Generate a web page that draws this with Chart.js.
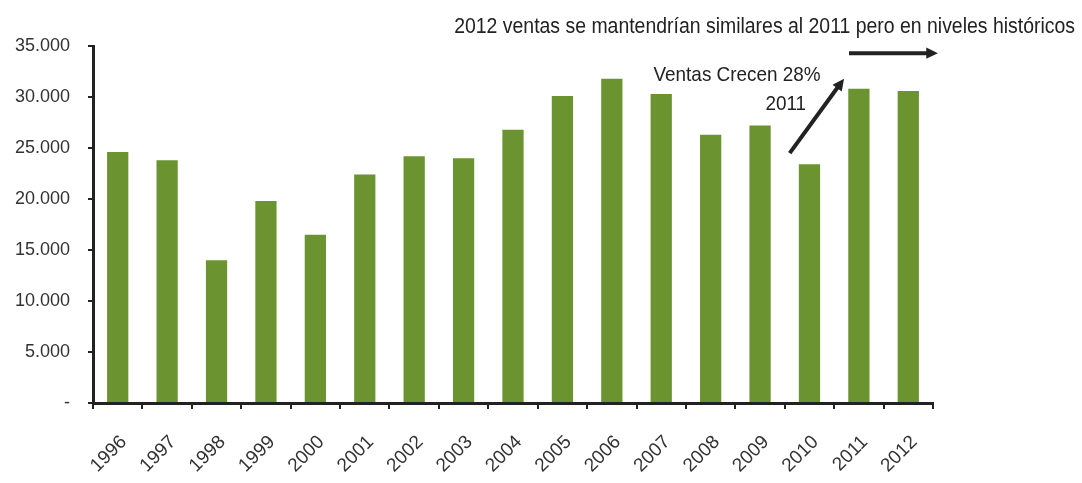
<!DOCTYPE html>
<html lang="es">
<head>
<meta charset="utf-8">
<title>Ventas 1996-2012</title>
<script src="https://cdn.jsdelivr.net/npm/chart.js"></script>
<style>
    html, body { margin: 0; padding: 0; background: #ffffff; }
    #wrap { width: 1082px; height: 483px; position: relative; }
</style>
</head>
<body>
<div id="wrap"><canvas id="ventasChart" width="1082" height="483"></canvas></div>
<script>
// ---------------------------------------------
// Datos
// ---------------------------------------------
const years = ['1996', '1997', '1998', '1999', '2000', '2001', '2002', '2003', '2004',
               '2005', '2006', '2007', '2008', '2009', '2010', '2011', '2012'];
const ventas = [24600, 23800, 14000, 19800, 16500, 22400, 24200, 24000, 26800,
                30100, 31800, 30300, 26300, 27200, 23400, 30800, 30600];
const yTicks = [0, 5000, 10000, 15000, 20000, 25000, 30000, 35000];

const TITLE_TEXT = '2012 ventas se mantendrían similares al 2011 pero en niveles históricos';
const NOTE_LINE1 = 'Ventas Crecen 28%';
const NOTE_LINE2 = '2011';

const FONT = "'Liberation Sans', Arial, sans-serif";
const BAR_COLOR = '#6b9330';
const INK = '#222222';

// formato 35.000 y "-" para el cero
function fmtMiles(v) {
    if (v === 0) return '-';
    return String(v).replace(/\B(?=(\d{3})+(?!\d))/g, '.');
}

// flecha con punta triangular
function drawArrow(ctx, x1, y1, x2, y2) {
    const ang = Math.atan2(y2 - y1, x2 - x1);
    const head = 13;
    ctx.save();
    ctx.strokeStyle = INK;
    ctx.fillStyle = INK;
    ctx.lineWidth = 4;
    ctx.beginPath();
    ctx.moveTo(x1, y1);
    ctx.lineTo(x2 - Math.cos(ang) * head * 0.8, y2 - Math.sin(ang) * head * 0.8);
    ctx.stroke();
    ctx.beginPath();
    ctx.moveTo(x2, y2);
    ctx.lineTo(x2 - head * Math.cos(ang - 0.45), y2 - head * Math.sin(ang - 0.45));
    ctx.lineTo(x2 - head * Math.cos(ang + 0.45), y2 - head * Math.sin(ang + 0.45));
    ctx.closePath();
    ctx.fill();
    ctx.restore();
}

// texto algo comprimido en horizontal
function drawNarrowText(ctx, text, x, y, size, align) {
    ctx.save();
    ctx.font = size + 'px ' + FONT;
    ctx.fillStyle = INK;
    ctx.textBaseline = 'middle';
    ctx.textAlign = align;
    ctx.translate(x, y);
    ctx.scale(0.9, 1);
    ctx.fillText(text, 0, 0);
    ctx.restore();
}

// anotaciones: titulo, nota 2011 y flechas
const notasPlugin = {
    id: 'notas',
    afterDraw(chart) {
        const ctx = chart.ctx;
        const x = chart.scales.x;
        const y = chart.scales.y;
        const step = x.getPixelForValue(1) - x.getPixelForValue(0);

        drawNarrowText(ctx, TITLE_TEXT, 1075, 27, 21.6, 'right');
        drawNarrowText(ctx, NOTE_LINE1, x.getPixelForValue(13) - 23, 75, 21, 'center');
        drawNarrowText(ctx, NOTE_LINE2, x.getPixelForValue(13) + 46, 104, 21, 'right');

        // flecha diagonal: crecimiento 2010 -> 2011
        drawArrow(ctx,
            x.getPixelForValue(14) - step * 0.4, y.getPixelForValue(24500),
            x.getPixelForValue(15) - step * 0.3, y.getPixelForValue(31800));
        // flecha horizontal hacia 2012
        drawArrow(ctx,
            x.getPixelForValue(15) - step * 0.2, y.getPixelForValue(34300),
            x.getPixelForValue(16) + step * 0.6, y.getPixelForValue(34300));
    }
};

const chart = new Chart(document.getElementById('ventasChart').getContext('2d'), {
    type: 'bar',
    data: {
        labels: years,
        datasets: [{
            data: ventas,
            backgroundColor: BAR_COLOR,
            borderWidth: 0,
            barPercentage: 0.43,
            categoryPercentage: 1.0
        }]
    },
    options: {
        responsive: false,
        animation: false,
        layout: { padding: { top: 46, right: 149, left: 0, bottom: 0 } },
        plugins: {
            legend: { display: false },
            tooltip: { enabled: false }
        },
        scales: {
            x: {
                offset: true,
                border: { color: INK, width: 3 },
                grid: {
                    offset: true,
                    drawOnChartArea: false,
                    drawTicks: true,
                    tickLength: 6,
                    color: INK,
                    lineWidth: 2
                },
                ticks: {
                    color: '#333333',
                    font: { family: FONT, size: 19 },
                    minRotation: 45,
                    maxRotation: 45,
                    padding: 22,
                    labelOffset: 6,
                    autoSkip: false
                },
                afterFit(scale) { scale.height = 80; }
            },
            y: {
                min: 0,
                max: 35000,
                border: { color: INK, width: 3 },
                grid: {
                    drawOnChartArea: false,
                    drawTicks: true,
                    tickLength: 5,
                    color: INK,
                    lineWidth: 2
                },
                afterBuildTicks(scale) {
                    scale.ticks = yTicks.map(v => ({ value: v }));
                },
                ticks: {
                    color: '#333333',
                    font: { family: FONT, size: 18 },
                    padding: 18,
                    callback: v => fmtMiles(v)
                },
                afterFit(scale) { scale.width = 93; }
            }
        }
    },
    plugins: [notasPlugin]
});
</script>
</body>
</html>
